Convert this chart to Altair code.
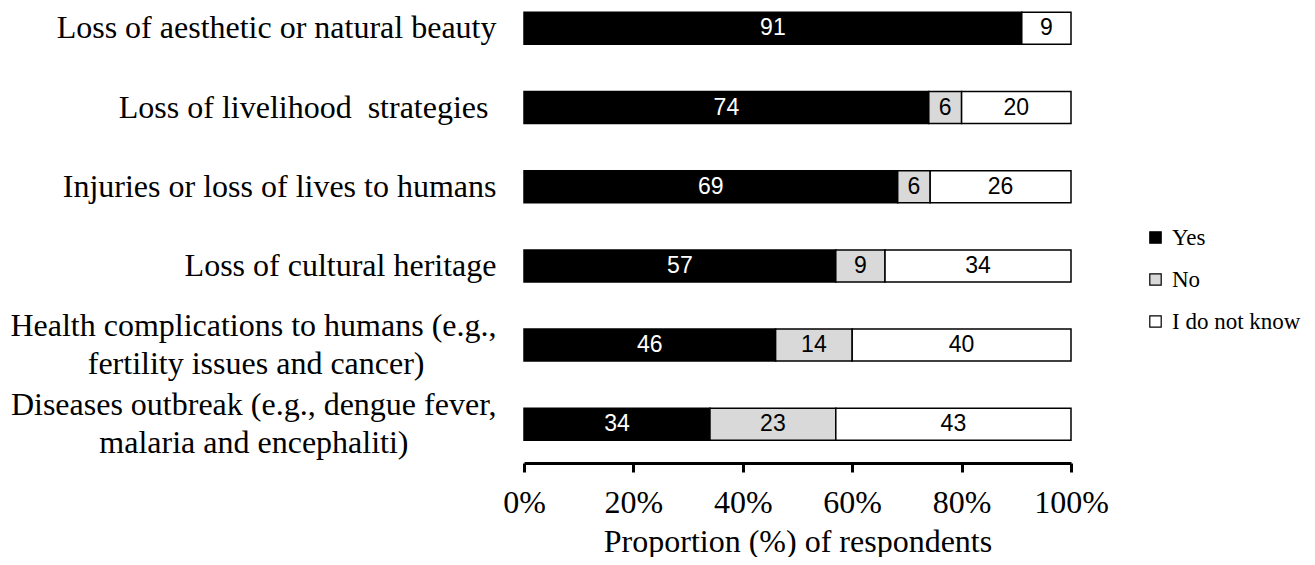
import altair as alt
import pandas as pd

categories = [
    "Loss of aesthetic or natural beauty",
    "Loss of livelihood  strategies ",
    "Injuries or loss of lives to humans",
    "Loss of cultural heritage",
    "Health complications to humans (e.g.,\nfertility issues and cancer)",
    "Diseases outbreak (e.g., dengue fever,\nmalaria and encephaliti)",
]
yes_vals = [91, 74, 69, 57, 46, 34]
no_vals = [0, 6, 6, 9, 14, 23]
idk_vals = [9, 20, 26, 34, 40, 43]
responses = ["Yes", "No", "I do not know"]
resp_colors = ["#000000", "#d9d9d9", "#ffffff"]
x_ticks = [0, 0.2, 0.4, 0.6, 0.8, 1.0]

rows = []
for c, y, n, d in zip(categories, yes_vals, no_vals, idk_vals):
    for i, (r, v) in enumerate(zip(responses, (y, n, d))):
        rows.append({"category": c, "response": r, "order": i, "value": v})
df = pd.DataFrame(rows)

NB = "\u00a0"
ZW = "\u200b"
label_expr = (
    "length(split(datum.label, '\\n')) > 1 ? "
    "[split(datum.label, '\\n')[0], split(datum.label, '\\n')[1] + "
    "pad('', indexof(datum.label, 'Health') == 0 ? 9 : 11, '" + NB + "') + '" + ZW + "'] : "
    "replace(datum.label, regexp(' ', 'g'), '" + NB + "') + '" + ZW + "'"
)

y_axis = alt.Axis(
    title=None, domain=False, ticks=False, tickSize=0, labelPadding=28,
    labelFont="Liberation Serif", labelFontSize=32, labelColor="black",
    labelLimit=1000, labelLineHeight=38, labelOverlap=False, labelExpr=label_expr,
    labelOffset={"condition": {"test": "indexof(datum.label, '\\n') >= 0", "value": -19}, "value": 0},
)
y_enc = alt.Y(
    "category:N", sort=categories,
    scale=alt.Scale(paddingInner=0.596, paddingOuter=0.1705, align=0.16),
    axis=y_axis,
)
x_axis = alt.Axis(
    title="Proportion (%) of respondents", values=x_ticks, format=".0%",
    grid=False, domainColor="black", domainWidth=3, tickColor="black",
    tickWidth=3, tickSize=9, labelPadding=15, labelFlush=False,
    labelFont="Liberation Serif", labelFontSize=32, labelColor="black",
    titleFont="Liberation Serif", titleFontSize=32, titleFontWeight="normal",
    titleColor="black", titleBaseline="alphabetic", titleY=88,
)

base = (
    alt.Chart(df)
    .transform_filter(alt.datum.value > 0)
    .transform_stack(
        stack="value", groupby=["category"], as_=["x0", "x1"],
        offset="normalize", sort=[alt.SortField("order", order="ascending")],
    )
    .transform_calculate(mid="(datum.x0 + datum.x1) / 2")
)

bars = base.mark_bar(stroke="black", strokeWidth=1.5).encode(
    x=alt.X("x0:Q", scale=alt.Scale(domain=[0, 1]), axis=x_axis),
    x2="x1:Q",
    y=y_enc,
    color=alt.Color(
        "response:N",
        scale=alt.Scale(domain=responses, range=resp_colors),
        legend=alt.Legend(
            title=None, orient="none", legendX=620, legendY=218,
            symbolType="square", symbolSize=130, symbolStrokeColor="black",
            symbolStrokeWidth=1.2, labelFont="Liberation Serif",
            labelFontSize=23, labelColor="black", labelOffset=5,
            rowPadding=18, padding=0,
        ),
    ),
)

text = base.mark_text(
    font="Liberation Sans", fontSize=23, baseline="middle", align="center"
).encode(
    x=alt.X("mid:Q", axis=x_axis),
    y=y_enc,
    text="value:Q",
    color=alt.condition(alt.datum.response == "Yes", alt.value("white"), alt.value("black")),
)

chart = (
    alt.layer(bars, text)
    .properties(width=547, height=455, padding={"left": 1, "top": 0, "right": 0, "bottom": 0},
                background="white")
    .configure_view(stroke=None)
)

chart.save("out.html", embed_options={"renderer": "svg", "actions": False})
